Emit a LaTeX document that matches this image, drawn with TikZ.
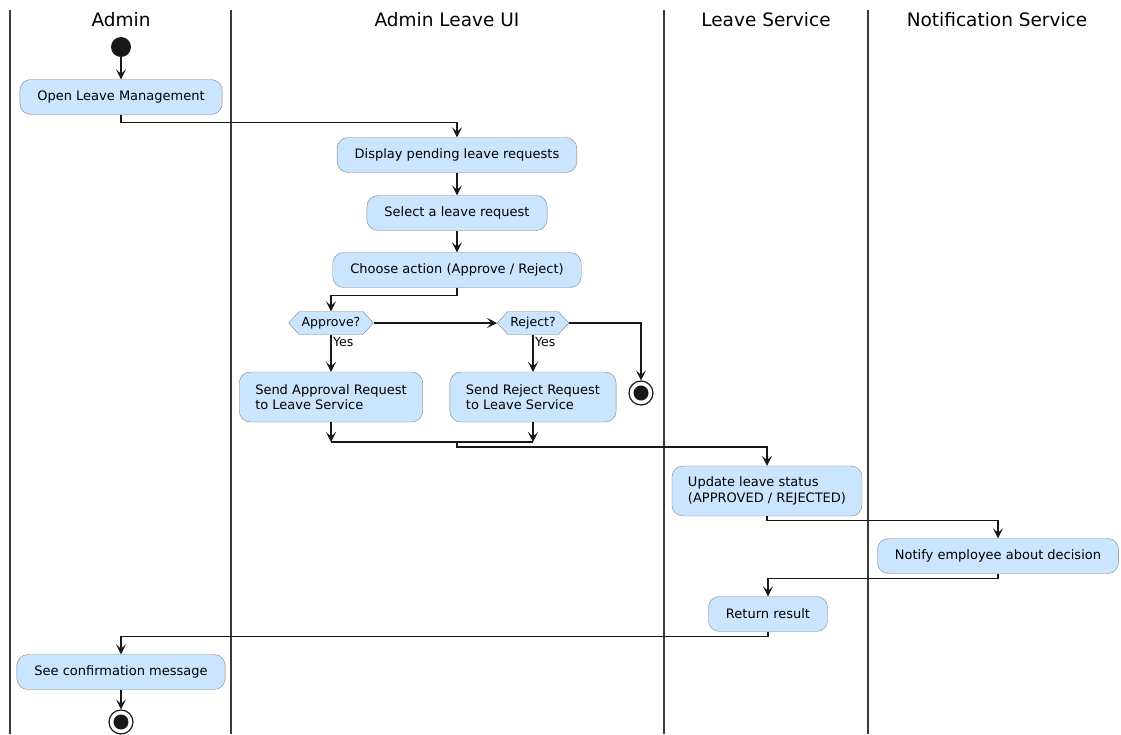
\documentclass[tikz,border=0pt]{standalone}
\usepackage{fontspec}
\setmainfont{DejaVu Sans}
\usepackage{tikz}
\usetikzlibrary{shapes.symbols,positioning,calc,arrows.meta}
\usepackage{xcolor}
\definecolor{actfill}{HTML}{CCE5FF}
\definecolor{actline}{HTML}{7A838C}
\definecolor{flowline}{HTML}{181818}
\definecolor{laneline}{HTML}{3A3A3A}

\begin{document}
\begin{tikzpicture}[x=1pt, y=-1pt,
    actbox/.style={rectangle, draw=actline, fill=actfill, rounded corners=11pt, minimum height=35pt, inner xsep=17.5pt, font=\fontsize{13}{15.5}\selectfont, align=center},
    twoline/.style={actbox, minimum height=50pt, align=left, inner xsep=16pt},
    choice/.style={signal, signal to=east and west, signal pointer angle=95, draw=actline, fill=actfill, minimum height=23pt, inner xsep=2.5pt, inner ysep=0pt, font=\fontsize{12.5}{14}\selectfont},
    lanetitle/.style={font=\fontsize{18.5}{21}\selectfont},
    yeslabel/.style={anchor=north west, inner sep=1pt, font=\fontsize{12.5}{14}\selectfont},
    flow/.style={draw=flowline, line width=1.1pt, -{Stealth[length=10pt, width=10pt, inset=4.5pt]}},
    plain/.style={draw=flowline, line width=1.1pt},
    lane/.style={draw=laneline, line width=2pt}
]
    \useasboundingbox (0,0) rectangle (1121,734);

    % Swimlanes
    \foreach \x in {10, 231, 664, 868}
        \draw[lane] (\x,10) -- (\x,734);
    \node[lanetitle] (tadmin) at (121,20) {Admin};
    \node[lanetitle] (tui) at (447,20) {Admin Leave UI};
    \node[lanetitle] (tleave) at (766,20) {Leave Service};
    \node[lanetitle] (tnotify) at (997,20) {Notification Service};

    % Admin
    \fill[flowline] (121,47) circle (10pt);
    \coordinate (start) at (121,57);
    \node[actbox] (openmgmt) at (121,97) {Open Leave Management};

    % Admin Leave UI
    \node[actbox] (display) at (457,155) {Display pending leave requests};
    \node[actbox] (select) at (457,213) {Select a leave request};
    \node[actbox] (choose) at (457,270) {Choose action (Approve / Reject)};
    \node[choice] (approve) at (331,323) {Approve?};
    \node[choice] (reject) at (533,323) {Reject?};
    \node[circle, draw=flowline, line width=1.2pt, fill=white, minimum size=24pt, inner sep=0pt] (rejend) at (641,393) {};
    \fill[flowline] (rejend) circle (7.5pt);
    \node[twoline] (sendapp) at (331,397) {Send Approval Request\\to Leave Service};
    \node[twoline] (sendrej) at (533,397) {Send Reject Request\\to Leave Service};
    \node[yeslabel] (yesA) at ([xshift=1pt, yshift=-1pt]approve.south) {Yes};
    \node[yeslabel] (yesR) at ([xshift=1pt, yshift=-1pt]reject.south) {Yes};
    \coordinate (mergeL) at (331,442);
    \coordinate (mergeR) at (533,442);
    \coordinate (mergeM) at (457,442);

    % Leave Service
    \node[twoline] (update) at (767,491) {Update leave status\\(APPROVED / REJECTED)};
    \node[actbox] (result) at (768,614) {Return result};

    % Notification Service
    \node[actbox] (notify) at (998,556) {Notify employee about decision};

    % Back to Admin
    \node[actbox] (confirm) at (121,672) {See confirmation message};
    \node[circle, draw=flowline, line width=1.2pt, fill=white, minimum size=24pt, inner sep=0pt] (stop) at (121,722) {};
    \fill[flowline] (stop) circle (7.5pt);

    % Flow
    \draw[flow] (start) -- (openmgmt.north);
    \draw[flow] (openmgmt.south) -- ++(0,8) -| (display.north);
    \draw[flow] (display) -- (select);
    \draw[flow] (select) -- (choose);
    \draw[flow] (choose.south) -- ++(0,8) -| (approve.north);
    \draw[flow] (approve.east) -- (reject.west);
    \draw[flow] (reject.east) -| (rejend.north);
    \draw[flow] (approve.south) -- (sendapp.north);
    \draw[flow] (reject.south) -- (sendrej.north);
    \draw[flow] (sendapp.south) -- (mergeL);
    \draw[flow] (sendrej.south) -- (mergeR);
    \draw[plain] (mergeL) -- (mergeR);
    \draw[flow] (mergeM) -- ++(0,5) -| (update.north);
    \draw[flow] (update.south) -- ++(0,4) -| (notify.north);
    \draw[flow] (notify.south) -- ++(0,5) -| (result.north);
    \draw[flow] (result.south) -- ++(0,5) -| (confirm.north);
    \draw[flow] (confirm) -- (stop);
\end{tikzpicture}
\end{document}
